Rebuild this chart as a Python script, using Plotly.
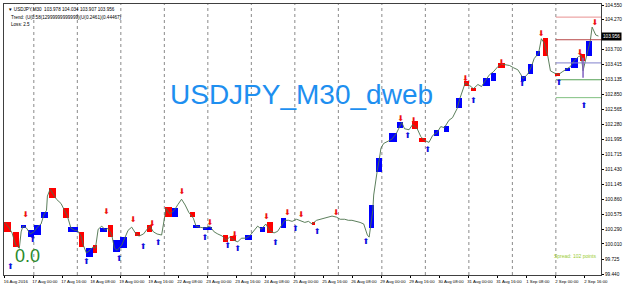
import plotly.graph_objects as go

# ---- axis data ----
label_idx = [0, 32, 64, 96, 128, 160, 192, 224, 256, 288, 320, 352, 384, 416, 448, 480, 512, 544, 576, 608, 640]
label_text = ["16 Aug 2016", "17 Aug 00:00", "17 Aug 16:00", "18 Aug 08:00", "19 Aug 00:00", "19 Aug 16:00",
              "22 Aug 08:00", "23 Aug 00:00", "23 Aug 16:00", "24 Aug 08:00", "25 Aug 00:00", "25 Aug 16:00",
              "26 Aug 08:00", "29 Aug 00:00", "29 Aug 16:00", "30 Aug 08:00", "31 Aug 00:00", "31 Aug 16:00",
              "1 Sep 08:00", "2 Sep 00:00", "2 Sep 16:00"]
day_idx = [32, 80, 128, 176, 224, 272, 320, 368, 416, 464, 512, 560, 608]
price_ticks = [104.550, 104.270, 103.700, 103.415, 103.135, 102.850, 102.565, 102.280, 101.995,
               101.715, 101.430, 101.145, 100.860, 100.575, 100.290, 100.010, 99.725, 99.440]
last_price = 103.956

# ---- price path ----
path_idx = [0, 5, 8, 12, 16, 18, 20, 24, 28, 32, 36, 40, 43, 46, 47, 50, 54, 57, 62, 66, 69, 73, 77, 80, 84, 87,
            90, 94, 97, 100, 103, 107, 111, 114, 118, 121, 124, 129, 133, 136, 140, 144, 148, 153, 157, 160, 164,
            168, 173, 176, 178, 182, 187, 191, 195, 199, 203, 208, 211, 215, 221, 226, 231, 235, 240, 244, 248,
            253, 257, 261, 266, 270, 275, 279, 283, 288, 292, 297, 301, 305, 309, 313, 317, 322, 326, 331, 335,
            339, 344, 348, 353, 357, 361, 366, 370, 375, 379, 383, 388, 392, 396, 400, 402, 404, 406, 407, 409,
            411, 413, 415, 418, 423, 427, 432, 435, 438, 441, 446, 450, 455, 459, 463, 468, 472, 477, 481, 485,
            490, 494, 499, 502, 505, 508, 513, 517, 522, 526, 530, 535, 539, 544, 548, 552, 557, 561, 566, 569,
            572, 577, 581, 584, 589, 592, 595, 599, 602, 606, 611, 615, 619, 624, 628, 633, 636, 638, 640, 644,
            646, 648, 650, 652, 655]
path_price = [100.42, 100.31, 100.22, 99.99, 99.93, 100.24, 100.35, 100.31, 100.20, 100.24, 100.33, 100.39, 100.56,
              100.65, 100.92, 101.05, 100.94, 100.86, 100.78, 100.65, 100.54, 100.31, 100.27, 100.27, 100.16, 99.97,
              99.84, 99.89, 99.95, 99.93, 100.29, 100.35, 100.27, 100.31, 100.18, 99.93, 99.89, 99.99, 100.14,
              100.27, 100.33, 100.22, 100.16, 100.20, 100.29, 100.35, 100.24, 100.20, 100.18, 100.50, 100.69,
              100.58, 100.65, 100.76, 100.86, 100.75, 100.61, 100.50, 100.35, 100.33, 100.31, 100.35, 100.24,
              100.20, 100.16, 100.08, 100.14, 100.08, 100.05, 100.12, 100.12, 100.16, 100.27, 100.35, 100.29,
              100.39, 100.27, 100.22, 100.25, 100.35, 100.46, 100.46, 100.44, 100.48, 100.46, 100.42, 100.44,
              100.39, 100.46, 100.48, 100.50, 100.52, 100.54, 100.52, 100.48, 100.48, 100.46, 100.46, 100.44,
              100.42, 100.39, 100.18, 100.14, 100.37, 100.65, 100.94, 101.22, 101.41, 101.60, 101.83, 101.92,
              101.96, 102.00, 102.11, 102.22, 102.32, 102.20, 102.18, 102.28, 102.20, 102.05, 101.98, 101.94,
              102.07, 102.13, 102.24, 102.22, 102.36, 102.41, 102.58, 102.77, 102.92, 103.07, 103.02, 102.96,
              103.04, 103.00, 103.11, 103.23, 103.28, 103.38, 103.43, 103.41, 103.40, 103.36, 103.32, 103.24,
              103.15, 103.24, 103.38, 103.53, 103.64, 103.91, 103.83, 103.59, 103.30, 103.26, 103.23, 103.28,
              103.32, 103.38, 103.49, 103.57, 103.59, 103.30, 103.45, 103.72, 103.87, 104.13, 104.06, 103.98,
              103.96]

# ---- red / blue boxes ----
red_x = [3, 12.3, 52.4, 67.2, 84.2, 99.5, 116.6, 146.7, 160, 180.8, 207, 243.4, 251.6, 292.2, 341, 452.5, 460.7,
         509, 516.6, 548.5, 596.9, 610, 637.5]
red_w = [7.5, 6.6, 7.7, 6.6, 5.5, 5.5, 6.6, 5.5, 5.5, 7.7, 5.5, 5.5, 6.6, 6.6, 3.3, 6.6, 7.7, 5.5, 5.5, 7.7, 5.5,
         5.5, 5.5]
red_lo = [100.24, 99.95, 100.88, 100.50, 99.95, 99.84, 100.14, 100.16, 100.24, 100.52, 100.52, 100.05, 100.06,
          100.22, 100.37, 102.20, 101.94, 103.02, 102.92, 103.36, 103.59, 103.21, 103.49]
red_hi = [100.42, 100.24, 101.07, 100.69, 100.24, 99.99, 100.37, 100.24, 100.37, 100.71, 100.61, 100.18, 100.16,
          100.42, 100.42, 102.34, 102.03, 103.11, 102.98, 103.45, 103.93, 103.26, 103.62]

blue_x = [20.5, 28.8, 35.9, 43.6, 74.9, 93, 109.4, 123.7, 131.4, 187.9, 211.5, 223.6, 268.6, 284, 308, 404.7, 413,
          428.3, 436, 476, 487, 500.8, 532, 539.7, 572.6, 580.3, 588.6, 621, 628.7, 644.6]
blue_w = [5.5, 6.6, 7.7, 7.7, 11, 7.7, 7.7, 7.7, 7.7, 6.6, 7.7, 9.9, 7.7, 5.5, 5.5, 5.5, 6.6, 8.8, 6.6, 5.5, 5.5,
          6.6, 7.7, 5.5, 5.5, 5.5, 4.4, 5.5, 7.7, 6.6]
blue_lo = [100.31, 100.14, 100.18, 100.50, 100.24, 99.76, 100.24, 99.86, 99.93, 100.52, 100.31, 100.27, 100.08,
           100.24, 100.31, 100.31, 101.37, 101.94, 102.22, 102.07, 102.13, 102.60, 103.02, 103.11, 103.11, 103.24,
           103.59, 103.30, 103.36, 103.59]
blue_hi = [100.37, 100.27, 100.37, 100.61, 100.33, 99.93, 100.31, 100.08, 100.14, 100.69, 100.37, 100.33, 100.18,
           100.33, 100.50, 100.75, 101.65, 102.11, 102.32, 102.17, 102.26, 102.79, 103.17, 103.26, 103.21, 103.43,
           103.68, 103.36, 103.55, 103.87]

# ---- signal arrows ----
dn_x = [23.3, 112.2, 141.8, 162.7, 195.6, 226.4, 253.8, 288.9, 311.9, 327.3, 365.7, 437.1, 451.4, 508.5, 548.0,
        591.9, 634.7, 651.2]
dn_y = [100.56, 100.61, 100.46, 100.39, 100.99, 100.41, 100.18, 100.52, 100.59, 100.56, 100.59, 102.39, 102.34,
        103.15, 103.45, 104.00, 103.64, 104.21]
up_x = [6.5, 31.0, 90.3, 126.5, 152.8, 169.3, 220.9, 246.1, 257.1, 298.8, 320.7, 344.9, 398.7, 444.8, 466.8,
        517.3, 571.1, 611.7, 639.1]
up_y = [99.58, 100.09, 99.67, 99.72, 99.95, 100.03, 100.12, 99.97, 99.91, 100.03, 100.29, 100.24, 100.05, 102.07,
        101.79, 102.73, 103.05, 103.07, 102.64]

# ---- levels on the last day ----
level_from = 608
level_to = 658
level_prices = [104.32, 103.89, 103.45, 103.13, 102.79]
level_colors = ["#e89090", "#b84848", "#8080cc", "#55a055", "#80c080"]
wick_x = [638, 638]
wick_y = [103.55, 103.17]

fig = go.Figure()

fig.add_trace(go.Bar(x=red_x, y=[h - l for h, l in zip(red_hi, red_lo)], base=red_lo, width=red_w,
                     marker=dict(color="#ff0000", line=dict(width=0)), showlegend=False))
fig.add_trace(go.Bar(x=blue_x, y=[h - l for h, l in zip(blue_hi, blue_lo)], base=blue_lo, width=blue_w,
                     marker=dict(color="#0000ff", line=dict(width=0)), showlegend=False))

fig.add_trace(go.Scatter(x=path_idx, y=path_price, mode="lines",
                         line=dict(color="#4a704a", width=0.9), showlegend=False))

for p, c in zip(level_prices, level_colors):
    fig.add_trace(go.Scatter(x=[level_from, level_to], y=[p, p], mode="lines",
                             line=dict(color=c, width=1), showlegend=False))
fig.add_trace(go.Scatter(x=wick_x, y=wick_y, mode="lines", line=dict(color="#8060c0", width=1.5),
                         showlegend=False))

fig.add_trace(go.Scatter(x=dn_x, y=dn_y, mode="text", text=["⬇"] * len(dn_x),
                         textfont=dict(family="DejaVu Sans", size=8, color="#ee1111"), showlegend=False))
fig.add_trace(go.Scatter(x=up_x, y=up_y, mode="text", text=["⬆"] * len(up_x),
                         textfont=dict(family="DejaVu Sans", size=8, color="#1010dd"), showlegend=False))

for d in day_idx:
    fig.add_vline(x=d, line=dict(color="#8a8a8a", width=1, dash="dot"), layer="below")

small = "Liberation Sans"
annots = [
    dict(text="USDJPY_M30_dweb", x=327, y=102.85, xref="x", yref="y", showarrow=False,
         font=dict(family="Liberation Sans", size=28, color="#1e8ff0")),
    dict(text="0.0", x=25.5, y=99.78, xref="x", yref="y", showarrow=False,
         font=dict(family="Liberation Sans", size=18, color="#2a8a2a")),
    dict(text="Spread: 102 points", x=0.995, y=99.78, xref="paper", yref="y", xanchor="right",
         showarrow=False, font=dict(family=small, size=5, color="#9acd32")),
    dict(text="▼ USDJPY,M30  103.978 104.034 103.907 103.956", x=0.003, y=0.995, xref="paper", yref="paper",
         xanchor="left", yanchor="top", showarrow=False, font=dict(family=small, size=4.6, color="#000000")),
    dict(text="Trend: (U(0.58(12999999999999)(U(0.2461)(0.44467)", x=0.008, y=0.968, xref="paper",
         yref="paper", xanchor="left", yanchor="top", showarrow=False,
         font=dict(family=small, size=4.6, color="#000000")),
    dict(text="Loss: 2.5", x=0.008, y=0.942, xref="paper", yref="paper", xanchor="left", yanchor="top",
         showarrow=False, font=dict(family=small, size=4.6, color="#000000")),
    dict(text="%.3f" % last_price, x=1.0, y=last_price, xref="paper", yref="y", xanchor="left",
         showarrow=False, bgcolor="#000000", borderpad=1,
         font=dict(family=small, size=4.7, color="#ffffff")),
]

fig.update_layout(
    width=625, height=289,
    margin=dict(l=3, r=22, t=3, b=14),
    paper_bgcolor="white", plot_bgcolor="white",
    barmode="overlay", bargap=0,
    annotations=annots,
    showlegend=False,
)
fig.update_xaxes(range=[-0.9, 657.8], tickmode="array", tickvals=label_idx, ticktext=label_text,
                 tickfont=dict(family=small, size=4.3, color="#000000"), ticks="outside", ticklen=2,
                 tickcolor="#000000", ticklabelshift=11, showgrid=False, zeroline=False,
                 showline=True, linecolor="#404040", linewidth=1, mirror=True)
fig.update_yaxes(range=[99.421, 104.569], side="right", tickmode="array", tickvals=price_ticks,
                 ticktext=["%.3f" % v for v in price_ticks],
                 tickfont=dict(family=small, size=4.7, color="#000000"), ticks="outside", ticklen=2,
                 tickcolor="#000000", showgrid=False, zeroline=False,
                 showline=True, linecolor="#404040", linewidth=1, mirror=True)

fig.write_html("out.html")
